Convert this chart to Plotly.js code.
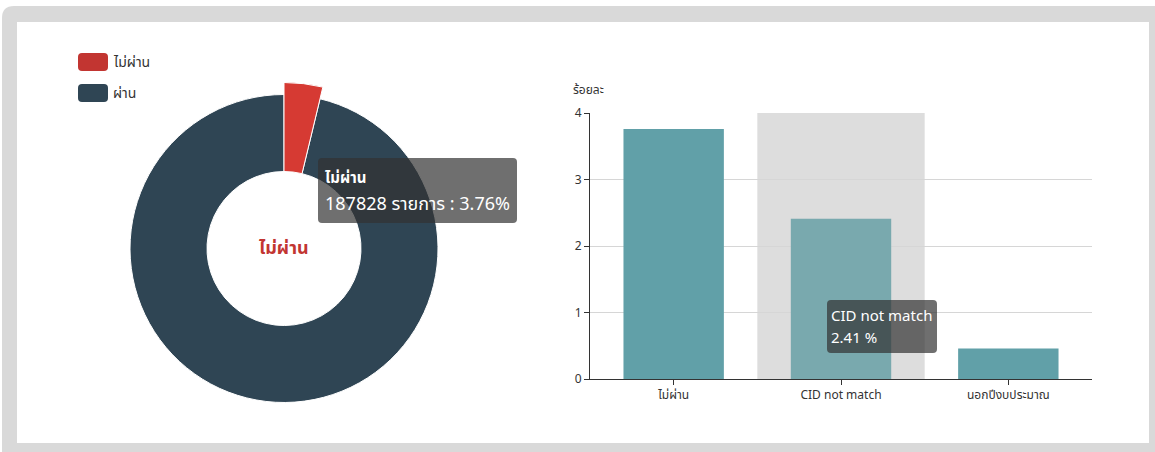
<!DOCTYPE html>
<html>
<head>
<meta charset="utf-8">
<script src="https://cdn.plot.ly/plotly-3.0.1.min.js"></script>
<style>
html,body{margin:0;padding:0;background:#fff;}
#chart{width:1155px;height:452px;}
</style>
</head>
<body>
<div id="chart"></div>
<script>
// ---- data ----
var pieLabels = ['ไม่ผ่าน', 'ผ่าน'];
var piePercent = [3.76, 96.24];
var failCount = 187828;
var barCategories = ['ไม่ผ่าน', 'CID not match', 'นอกปีงบประมาณ'];
var barValues = [3.76, 2.41, 0.46];
var yTicks = [0, 1, 2, 3, 4];
var yAxisName = 'ร้อยละ';
var countUnit = 'รายการ';

// ---- layout helpers (pixel -> paper) ----
var W = 1155, H = 452;
function px(x){ return x / W; }
function py(y){ return 1 - y / H; }
var FONT = '"Noto Sans", "Noto Sans Thai", Tahoma, sans-serif';
var RED = '#c23531', RED_EMPH = '#d63a33', DARK = '#2f4554', TEAL = '#61a0a8', TEAL_EMPH = '#79a9ae';

function roundRect(x0, y0, x1, y1, r){
  var X0 = px(x0), X1 = px(x1), Y0 = py(y0), Y1 = py(y1);
  var rx = r / W, ry = r / H;
  return 'M' + (X0 + rx) + ',' + Y0 +
         ' L' + (X1 - rx) + ',' + Y0 +
         ' Q' + X1 + ',' + Y0 + ' ' + X1 + ',' + (Y0 - ry) +
         ' L' + X1 + ',' + (Y1 + ry) +
         ' Q' + X1 + ',' + Y1 + ' ' + (X1 - rx) + ',' + Y1 +
         ' L' + (X0 + rx) + ',' + Y1 +
         ' Q' + X0 + ',' + Y1 + ' ' + X0 + ',' + (Y1 + ry) +
         ' L' + X0 + ',' + (Y0 - ry) +
         ' Q' + X0 + ',' + Y0 + ' ' + (X0 + rx) + ',' + Y0 + ' Z';
}

var cx = 284, cy = 248.5, rOut = 154, rIn = 77, rEmph = 166;

var pieBase = {
  type: 'pie', labels: pieLabels, values: piePercent, sort: false,
  direction: 'clockwise', rotation: 0, hole: rIn / rOut,
  textinfo: 'none', hoverinfo: 'skip', showlegend: false,
  marker: {colors: [RED_EMPH, DARK], line: {color: '#ffffff', width: 1}},
  domain: {x: [px(cx - rOut), px(cx + rOut)], y: [py(cy + rOut), py(cy - rOut)]}
};
var pieEmph = {
  type: 'pie', labels: pieLabels, values: piePercent, sort: false,
  direction: 'clockwise', rotation: 0, hole: rIn / rEmph,
  textinfo: 'none', hoverinfo: 'skip', showlegend: false,
  marker: {colors: [RED_EMPH, 'rgba(0,0,0,0)'], line: {color: ['#ffffff', 'rgba(0,0,0,0)'], width: 1}},
  domain: {x: [px(cx - rEmph), px(cx + rEmph)], y: [py(cy + rEmph), py(cy - rEmph)]}
};

var bar = {
  type: 'bar', x: barCategories, y: barValues, xaxis: 'x', yaxis: 'y',
  marker: {color: [TEAL, TEAL_EMPH, TEAL]}, hoverinfo: 'skip', showlegend: false
};

var shapes = [
  // frame
  {type: 'path', xref: 'paper', yref: 'paper', layer: 'below', path: roundRect(2, 6, 1175, 470, 12),
   fillcolor: '#d9d9d9', line: {width: 0}},
  {type: 'rect', xref: 'paper', yref: 'paper', layer: 'below', x0: px(17), x1: px(1149), y0: py(22), y1: py(443),
   fillcolor: '#ffffff', line: {width: 0}},
  // axis shadow behind hovered category
  {type: 'rect', xref: 'x', yref: 'y', layer: 'below', x0: 0.5, x1: 1.5, y0: 0, y1: 4,
   fillcolor: '#dddddd', line: {width: 0}},
  // legend icons
  {type: 'path', xref: 'paper', yref: 'paper', path: roundRect(78, 53, 108, 71, 4), fillcolor: RED, line: {width: 0}},
  {type: 'path', xref: 'paper', yref: 'paper', path: roundRect(78, 84, 108, 102, 4), fillcolor: DARK, line: {width: 0}},
  // tooltips
  {type: 'path', xref: 'paper', yref: 'paper', path: roundRect(318, 158, 517, 223, 4),
   fillcolor: 'rgba(50,50,50,0.7)', line: {width: 0}},
  {type: 'path', xref: 'paper', yref: 'paper', path: roundRect(827, 300, 937, 353, 4),
   fillcolor: 'rgba(50,50,50,0.7)', line: {width: 0}}
];

var annotations = [
  {xref: 'paper', yref: 'paper', x: px(111), y: py(62), xanchor: 'left', yanchor: 'middle', showarrow: false,
   text: pieLabels[0], font: {family: FONT, size: 14, color: '#333'}},
  {xref: 'paper', yref: 'paper', x: px(111), y: py(93), xanchor: 'left', yanchor: 'middle', showarrow: false,
   text: pieLabels[1], font: {family: FONT, size: 14, color: '#333'}},
  {xref: 'paper', yref: 'paper', x: px(cx), y: py(247), xanchor: 'center', yanchor: 'middle', showarrow: false,
   text: '<b>' + pieLabels[0] + '</b>', font: {family: FONT, size: 18, color: RED}},
  {xref: 'paper', yref: 'paper', x: px(323), y: py(177), xanchor: 'left', yanchor: 'middle', showarrow: false,
   text: '<b>' + pieLabels[0] + '</b>', font: {family: FONT, size: 15, color: '#fff'}},
  {xref: 'paper', yref: 'paper', x: px(323), y: py(203), xanchor: 'left', yanchor: 'middle', showarrow: false,
   text: failCount + ' ' + countUnit + ' : ' + piePercent[0] + '%', font: {family: FONT, size: 18, color: '#fff'}},
  {xref: 'paper', yref: 'paper', x: px(829), y: py(315), xanchor: 'left', yanchor: 'middle', showarrow: false,
   text: barCategories[1], font: {family: FONT, size: 15, color: '#fff'}},
  {xref: 'paper', yref: 'paper', x: px(829), y: py(337), xanchor: 'left', yanchor: 'middle', showarrow: false,
   text: barValues[1] + ' %', font: {family: FONT, size: 15, color: '#fff'}},
  {xref: 'paper', yref: 'paper', x: px(571), y: py(90), xanchor: 'left', yanchor: 'middle', showarrow: false,
   text: yAxisName, font: {family: FONT, size: 12, color: '#333'}}
];

var layout = {
  width: W, height: H,
  margin: {l: 0, r: 0, t: 0, b: 0, pad: 0},
  paper_bgcolor: '#ffffff', plot_bgcolor: 'rgba(0,0,0,0)',
  font: {family: FONT, size: 12, color: '#333'},
  showlegend: false,
  bargap: 0.4,
  xaxis: {
    domain: [px(590), px(1092)], anchor: 'y', type: 'category', range: [-0.5, 2.5],
    showline: true, linecolor: '#333', linewidth: 1, ticks: 'outside', ticklen: 5, tickcolor: '#333',
    showgrid: false, zeroline: false, fixedrange: true,
    tickfont: {family: FONT, size: 12, color: '#333'}
  },
  yaxis: {
    domain: [py(379), py(113)], anchor: 'x', range: [0, 4], tickvals: yTicks,
    showline: true, linecolor: '#333', linewidth: 1, ticks: 'outside', ticklen: 5, tickcolor: '#333',
    showgrid: true, gridcolor: '#d6d6d6', zeroline: false, fixedrange: true,
    tickfont: {family: FONT, size: 12, color: '#333'}
  },
  shapes: shapes,
  annotations: annotations
};

Plotly.newPlot('chart', [pieBase, pieEmph, bar], layout, {displayModeBar: false, staticPlot: true});
</script>
</body>
</html>
